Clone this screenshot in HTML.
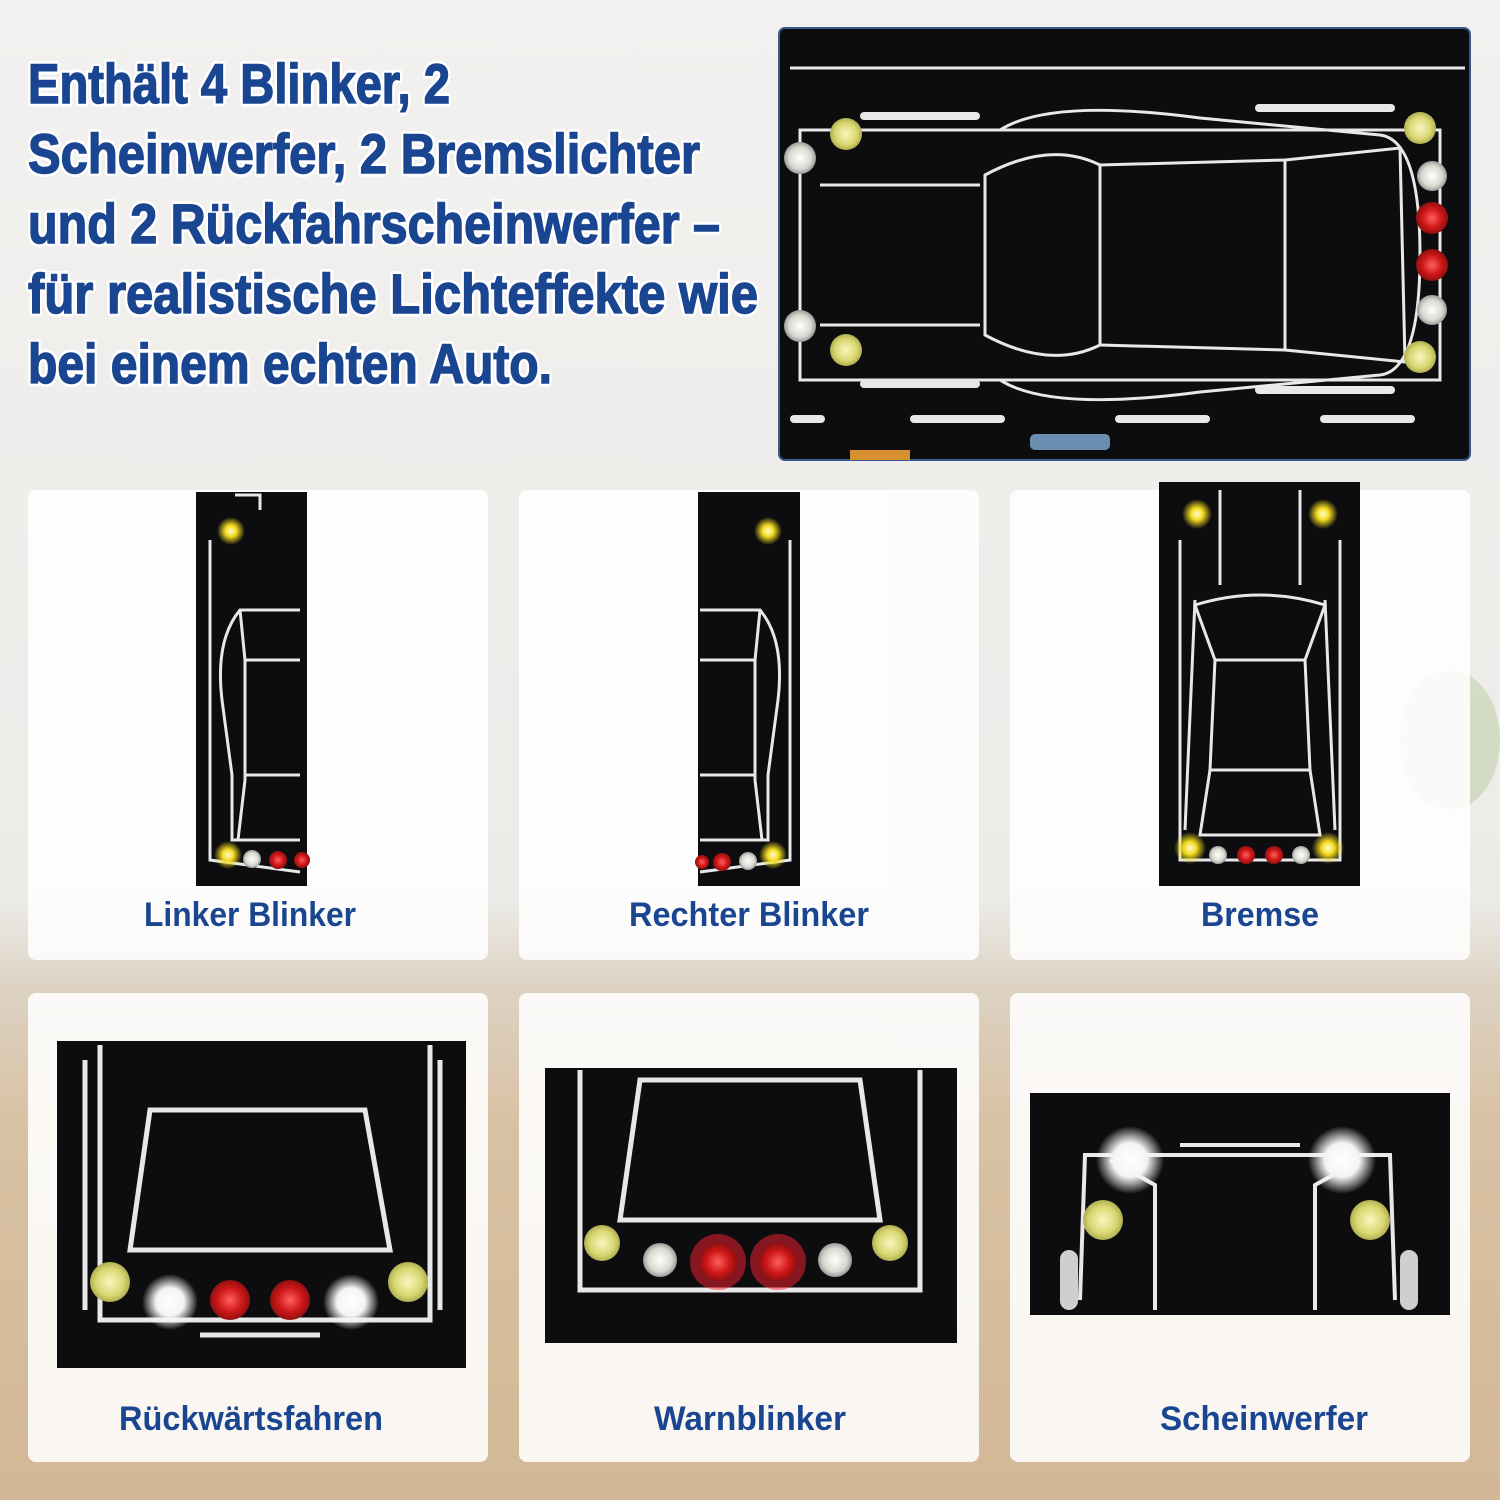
<!DOCTYPE html>
<html><head><meta charset="utf-8"><style>
html,body{margin:0;padding:0;width:1500px;height:1500px;overflow:hidden;background:#efeeec}
svg{display:block}
.t{font-family:"Liberation Sans Narrow","Liberation Sans",sans-serif;font-weight:bold;fill:#1a4590}
</style></head><body>
<svg width="1500" height="1500" viewBox="0 0 1500 1500" xmlns="http://www.w3.org/2000/svg">
<defs>
<linearGradient id="bg" x1="0" y1="0" x2="0" y2="1">
<stop offset="0" stop-color="#f2f1ef"/><stop offset="0.6" stop-color="#ecebe8"/><stop offset="0.66" stop-color="#ddd2c2"/><stop offset="0.75" stop-color="#d8c1a3"/><stop offset="1" stop-color="#d2b896"/>
</linearGradient>
<radialGradient id="y"><stop offset="0" stop-color="#fffbd0"/><stop offset="0.4" stop-color="#f4dc20"/><stop offset="1" stop-color="#f4dc20" stop-opacity="0"/></radialGradient>
<radialGradient id="yl"><stop offset="0" stop-color="#f8f7c0"/><stop offset="0.7" stop-color="#d8d670"/><stop offset="1" stop-color="#b0ae50"/></radialGradient>
<radialGradient id="r"><stop offset="0" stop-color="#ff6060"/><stop offset="0.6" stop-color="#d01818"/><stop offset="1" stop-color="#901010"/></radialGradient>
<radialGradient id="w"><stop offset="0" stop-color="#ffffff"/><stop offset="0.5" stop-color="#f4f4f4"/><stop offset="1" stop-color="#ffffff" stop-opacity="0"/></radialGradient>
<radialGradient id="wl"><stop offset="0" stop-color="#ffffff"/><stop offset="0.7" stop-color="#d8d8d0"/><stop offset="1" stop-color="#999"/></radialGradient>
</defs>
<rect width="1500" height="1500" fill="url(#bg)"/>
<ellipse cx="1450" cy="740" rx="50" ry="70" fill="#c8d4b4" opacity="0.7"/>
<g class="t" font-size="56" stroke="#fff" stroke-width="7" paint-order="stroke" stroke-linejoin="round">
<text x="28" y="103" textLength="422" lengthAdjust="spacingAndGlyphs">Enthält 4 Blinker, 2</text>
<text x="28" y="173" textLength="672" lengthAdjust="spacingAndGlyphs">Scheinwerfer, 2 Bremslichter</text>
<text x="28" y="243" textLength="692" lengthAdjust="spacingAndGlyphs">und 2 Rückfahrscheinwerfer –</text>
<text x="28" y="313" textLength="730" lengthAdjust="spacingAndGlyphs">für realistische Lichteffekte wie</text>
<text x="28" y="383" textLength="524" lengthAdjust="spacingAndGlyphs">bei einem echten Auto.</text>
</g>
<g class="t" font-size="56" stroke="#1a4590" stroke-width="1.5">
<text x="28" y="103" textLength="422" lengthAdjust="spacingAndGlyphs">Enthält 4 Blinker, 2</text>
<text x="28" y="173" textLength="672" lengthAdjust="spacingAndGlyphs">Scheinwerfer, 2 Bremslichter</text>
<text x="28" y="243" textLength="692" lengthAdjust="spacingAndGlyphs">und 2 Rückfahrscheinwerfer –</text>
<text x="28" y="313" textLength="730" lengthAdjust="spacingAndGlyphs">für realistische Lichteffekte wie</text>
<text x="28" y="383" textLength="524" lengthAdjust="spacingAndGlyphs">bei einem echten Auto.</text>
</g>
<rect x="779" y="28" width="691" height="432" rx="6" fill="#0d0d10" stroke="#3a5a8a" stroke-width="2"/>
<g fill="none" stroke="#e8e8e8" stroke-width="3">
<line x1="790" y1="68" x2="1465" y2="68"/>
<path d="M800 130 L1440 130 L1440 380 L800 380 Z"/>
<path d="M1000 130 Q1050 98 1200 118 L1380 135 Q1420 140 1420 255 Q1420 370 1380 375 L1200 392 Q1050 412 1000 380"/>
<path d="M985 175 Q1050 140 1100 165 L1100 345 Q1050 370 985 335 Z"/>
<path d="M1100 165 L1285 160 L1285 350 L1100 345"/>
<path d="M1285 160 L1400 148 L1405 362 L1285 350 Z"/>
<path d="M820 185 L980 185 M820 325 L980 325"/>
</g>
<g fill="#e8e8e8">
<rect x="790" y="415" width="35" height="8" rx="4"/><rect x="910" y="415" width="95" height="8" rx="4"/><rect x="1115" y="415" width="95" height="8" rx="4"/><rect x="1320" y="415" width="95" height="8" rx="4"/>
<rect x="860" y="112" width="120" height="8" rx="4"/><rect x="1255" y="104" width="140" height="8" rx="4"/>
<rect x="860" y="380" width="120" height="8" rx="4"/><rect x="1255" y="386" width="140" height="8" rx="4"/>
</g>
<circle cx="846" cy="134" r="16" fill="url(#yl)"/><circle cx="800" cy="158" r="16" fill="url(#wl)"/>
<circle cx="800" cy="326" r="16" fill="url(#wl)"/><circle cx="846" cy="350" r="16" fill="url(#yl)"/>
<circle cx="1420" cy="128" r="16" fill="url(#yl)"/><circle cx="1432" cy="176" r="15" fill="url(#wl)"/>
<circle cx="1432" cy="218" r="16" fill="url(#r)"/><circle cx="1432" cy="265" r="16" fill="url(#r)"/>
<circle cx="1432" cy="310" r="15" fill="url(#wl)"/><circle cx="1420" cy="357" r="16" fill="url(#yl)"/>
<rect x="1030" y="434" width="80" height="16" rx="5" fill="#6a8fb0"/>
<rect x="850" y="450" width="60" height="10" fill="#d99030"/>
<g fill="#ffffff" opacity="0.88">
<rect x="28" y="490" width="460" height="470" rx="8"/><rect x="519" y="490" width="460" height="470" rx="8"/><rect x="1010" y="490" width="460" height="470" rx="8"/>
<rect x="28" y="993" width="460" height="469" rx="8"/><rect x="519" y="993" width="460" height="469" rx="8"/><rect x="1010" y="993" width="460" height="469" rx="8"/>
</g>
<rect x="196" y="492" width="111" height="394" fill="#0d0d10"/>
<g fill="none" stroke="#e8e8e8" stroke-width="3">
<path d="M300 610 L240 610 Q215 640 222 700 L232 775 L232 840 L300 840"/>
<path d="M240 610 L245 660 L245 780 L238 840 M245 660 L300 660 M245 775 L300 775"/>
<path d="M210 540 L210 860 L300 872"/><path d="M235 495 L260 495 L260 510"/>
</g>
<circle cx="231" cy="531" r="14" fill="url(#y)"/><circle cx="228" cy="855" r="14" fill="url(#y)"/>
<circle cx="252" cy="859" r="9" fill="url(#wl)"/><circle cx="278" cy="860" r="9" fill="url(#r)"/><circle cx="302" cy="860" r="8" fill="url(#r)"/>
<text class="t" x="250" y="926" font-size="34" text-anchor="middle" textLength="212" lengthAdjust="spacingAndGlyphs">Linker Blinker</text>
<rect x="698" y="492" width="102" height="394" fill="#0d0d10"/>
<g fill="none" stroke="#e8e8e8" stroke-width="3">
<path d="M700 610 L760 610 Q785 640 778 700 L768 775 L768 840 L700 840"/>
<path d="M760 610 L755 660 L755 780 L762 840 M755 660 L700 660 M755 775 L700 775"/>
<path d="M790 540 L790 860 L700 872"/>
</g>
<circle cx="768" cy="531" r="14" fill="url(#y)"/><circle cx="773" cy="855" r="14" fill="url(#y)"/>
<circle cx="748" cy="861" r="9" fill="url(#wl)"/><circle cx="722" cy="862" r="9" fill="url(#r)"/><circle cx="702" cy="862" r="7" fill="url(#r)"/>
<text class="t" x="749" y="926" font-size="34" text-anchor="middle" textLength="240" lengthAdjust="spacingAndGlyphs">Rechter Blinker</text>
<rect x="1159" y="482" width="201" height="404" fill="#0d0d10"/>
<g fill="none" stroke="#e8e8e8" stroke-width="3">
<path d="M1195 605 Q1260 585 1325 605 L1305 660 L1215 660 Z"/>
<path d="M1215 660 L1210 770 L1310 770 L1305 660"/>
<path d="M1210 770 L1200 835 L1320 835 L1310 770"/>
<path d="M1180 540 L1180 860 L1340 860 L1340 540"/><path d="M1195 600 L1185 830 M1325 600 L1335 830"/>
<path d="M1220 490 L1220 585 M1300 490 L1300 585"/>
</g>
<circle cx="1197" cy="514" r="15" fill="url(#y)"/><circle cx="1323" cy="514" r="15" fill="url(#y)"/>
<circle cx="1190" cy="848" r="16" fill="url(#y)"/><circle cx="1328" cy="848" r="16" fill="url(#y)"/>
<circle cx="1218" cy="855" r="9" fill="url(#wl)"/><circle cx="1246" cy="855" r="9" fill="url(#r)"/><circle cx="1274" cy="855" r="9" fill="url(#r)"/><circle cx="1301" cy="855" r="9" fill="url(#wl)"/>
<text class="t" x="1260" y="926" font-size="34" text-anchor="middle" textLength="118" lengthAdjust="spacingAndGlyphs">Bremse</text>
<rect x="57" y="1041" width="409" height="327" fill="#0d0d10"/>
<g fill="none" stroke="#e8e8e8" stroke-width="5">
<path d="M150 1110 L365 1110 L390 1250 L130 1250 Z"/>
<path d="M100 1045 L100 1320 L430 1320 L430 1045"/><path d="M85 1060 L85 1310 M440 1060 L440 1310"/>
<path d="M200 1335 L320 1335"/>
</g>
<circle cx="110" cy="1282" r="20" fill="url(#yl)"/><circle cx="408" cy="1282" r="20" fill="url(#yl)"/>
<circle cx="170" cy="1302" r="28" fill="url(#w)"/><circle cx="351" cy="1302" r="28" fill="url(#w)"/>
<circle cx="230" cy="1300" r="20" fill="url(#r)"/><circle cx="290" cy="1300" r="20" fill="url(#r)"/>
<text class="t" x="251" y="1430" font-size="34" text-anchor="middle" textLength="264" lengthAdjust="spacingAndGlyphs">Rückwärtsfahren</text>
<rect x="545" y="1068" width="412" height="275" fill="#0d0d10"/>
<g fill="none" stroke="#e8e8e8" stroke-width="5">
<path d="M640 1080 L860 1080 L880 1220 L620 1220 Z"/>
<path d="M580 1070 L580 1290 L920 1290 L920 1070"/>
</g>
<circle cx="602" cy="1243" r="18" fill="url(#yl)"/><circle cx="890" cy="1243" r="18" fill="url(#yl)"/>
<circle cx="660" cy="1260" r="17" fill="url(#wl)"/><circle cx="835" cy="1260" r="17" fill="url(#wl)"/>
<circle cx="718" cy="1262" r="28" fill="#ff2030" opacity="0.5"/><circle cx="778" cy="1262" r="28" fill="#ff2030" opacity="0.5"/>
<circle cx="718" cy="1262" r="19" fill="url(#r)"/><circle cx="778" cy="1262" r="19" fill="url(#r)"/>
<text class="t" x="750" y="1430" font-size="34" text-anchor="middle" textLength="192" lengthAdjust="spacingAndGlyphs">Warnblinker</text>
<rect x="1030" y="1093" width="420" height="222" fill="#0d0d10"/>
<g fill="none" stroke="#e8e8e8" stroke-width="4">
<path d="M1080 1300 L1085 1155 L1390 1155 L1395 1300"/>
<path d="M1180 1145 L1300 1145"/><path d="M1110 1160 L1155 1185 L1155 1310 M1360 1160 L1315 1185 L1315 1310"/>
</g>
<g fill="#cfcfcf"><rect x="1060" y="1250" width="18" height="60" rx="9"/><rect x="1400" y="1250" width="18" height="60" rx="9"/></g>
<circle cx="1130" cy="1160" r="34" fill="url(#w)"/><circle cx="1342" cy="1160" r="34" fill="url(#w)"/>
<circle cx="1103" cy="1220" r="20" fill="url(#yl)"/><circle cx="1370" cy="1220" r="20" fill="url(#yl)"/>
<text class="t" x="1264" y="1430" font-size="34" text-anchor="middle" textLength="208" lengthAdjust="spacingAndGlyphs">Scheinwerfer</text>
</svg>
</body></html>
